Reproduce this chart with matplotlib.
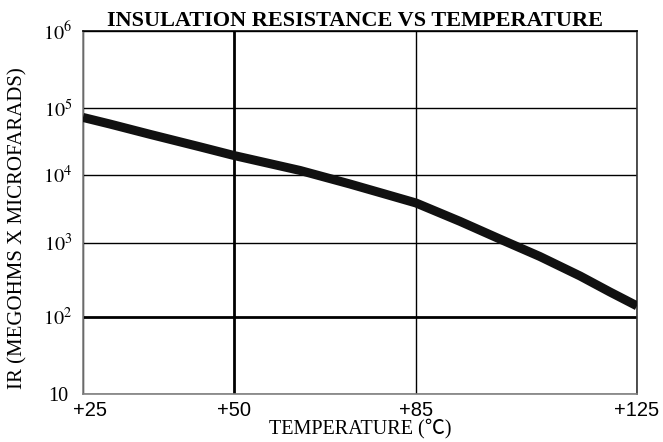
import numpy as np
import matplotlib
matplotlib.use("Agg")
import matplotlib.pyplot as plt
from matplotlib.transforms import ScaledTranslation

plt.rcParams['mathtext.fontset'] = 'stix'

# values
temps = [25, 29.5, 36.1, 44.4, 50, 62.7, 72.3, 79.0, 85, 93.0, 100.2, 107.4, 114.7, 120.1, 125]
ir = [7.3e4, 5.8e4, 4.07e4, 2.64e4, 1.96e4, 1.17e4, 7.36e3, 5.24e3, 3.86e3, 2.06e3, 1.13e3, 652, 355, 216, 140]

xtick_vals = [25, 50, 85, 125]
xtick_labels = ['+25', '+50', '+85', '+125']
ytick_vals = [10, 1e2, 1e3, 1e4, 1e5, 1e6]
ytick_labels = ['10', r'$10^2$', r'$10^3$', r'$10^4$', r'$10^5$', r'$10^6$']

# the original axes are not evenly spaced, so map them piecewise
x_frac = [0, 0.2726, 0.6011, 1.0]
y_dec = [1, 2, 3, 4, 5, 6]
y_frac = [0, 0.2129, 0.4168, 0.6033, 0.7870, 1.0]

def xfwd(x):
    return np.interp(x, xtick_vals, x_frac)

def xinv(f):
    return np.interp(f, x_frac, xtick_vals)

def yfwd(y):
    y = np.clip(np.asarray(y, dtype=float), 1e-300, None)
    return np.interp(np.log10(y), y_dec, y_frac)

def yinv(f):
    return 10 ** np.interp(f, y_frac, y_dec)

fig = plt.figure(figsize=(6.63, 4.42), dpi=100)
ax = fig.add_axes([83/663, 1 - 394/442, (637-83)/663, (394-31)/442])
ax.set_xscale('function', functions=(xfwd, xinv))
ax.set_yscale('function', functions=(yfwd, yinv))
ax.set_xlim(25, 125)
ax.set_ylim(10, 1e6)

ax.plot(temps, ir, color='#111111', lw=6.5, solid_capstyle='butt',
        solid_joinstyle='round', zorder=3)

ax.set_xticks(xtick_vals)
ax.set_xticklabels(xtick_labels, family='Liberation Sans', fontsize=14.5)
ax.set_yticks(ytick_vals)
ax.set_yticklabels(ytick_labels, family='Liberation Serif', fontsize=14.5, ha='center')
ax.minorticks_off()
ax.tick_params(axis='x', length=0, pad=5)
ax.tick_params(axis='y', length=0, pad=18)

# first x label sits a bit to the right in the original
lab0 = ax.get_xticklabels()[0]
lab0.set_transform(lab0.get_transform() + ScaledTranslation(7/100, 0, fig.dpi_scale_trans))

ax.grid(True, color='black', lw=1.0)
ax.get_xgridlines()[1].set_linewidth(2.0)
ax.get_ygridlines()[1].set_linewidth(2.0)

for side in ['left', 'bottom']:
    ax.spines[side].set_color('#808080')
    ax.spines[side].set_linewidth(1.2)
ax.spines['top'].set_linewidth(1.2)
ax.spines['right'].set_color('#333333')
ax.spines['right'].set_linewidth(1.2)

fig.text(355/663, 1 - 26/442, 'INSULATION RESISTANCE VS TEMPERATURE',
         ha='center', va='baseline', family='Liberation Serif',
         weight='bold', fontsize=16)
ax.set_xlabel('TEMPERATURE (\u2103)', family=['Liberation Serif', 'Noto Sans CJK SC'],
              fontsize=14.5)
ax.xaxis.set_label_coords(0.5, (394 - 419) / 363)
ax.set_ylabel('IR (MEGOHMS X MICROFARADS)', family='Liberation Serif', fontsize=15)
ax.yaxis.set_label_coords((27 - 83) / 554, (394 - 228) / 363)

fig.savefig('out.png', dpi=100)
